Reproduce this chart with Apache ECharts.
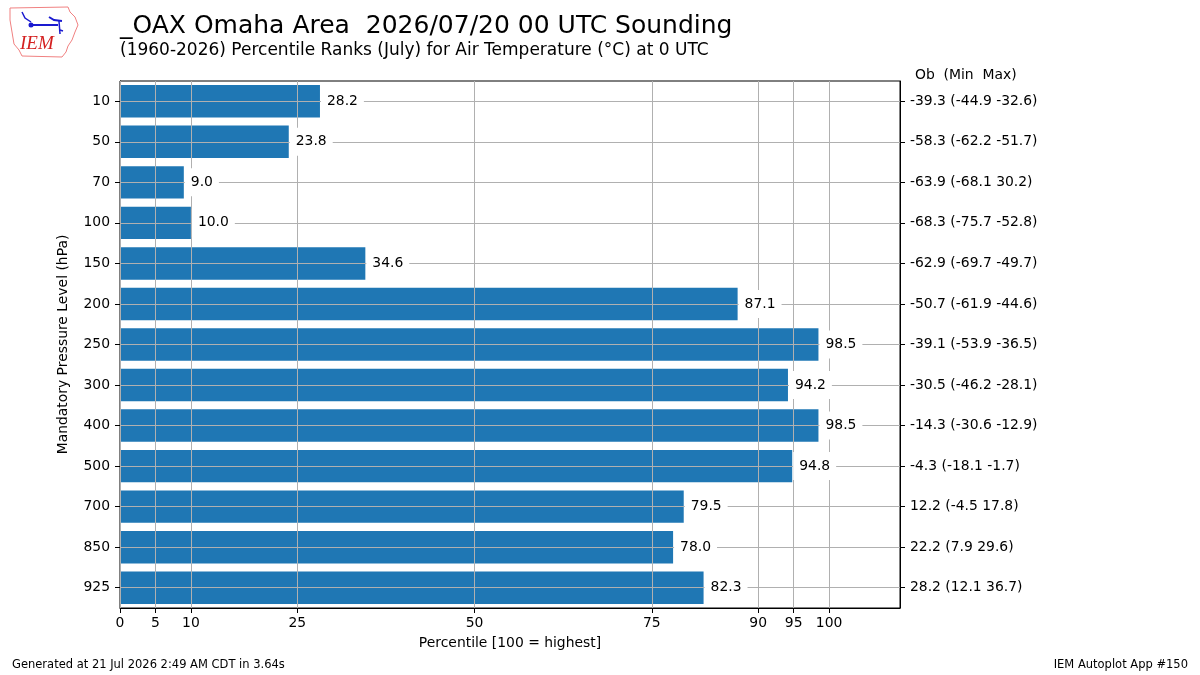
<!DOCTYPE html>
<html>
<head>
<meta charset="utf-8">
<script src="https://cdn.jsdelivr.net/npm/echarts@6/dist/echarts.min.js"></script>
<style>
    html, body {margin: 0; padding: 0; background: #fff;}
    #myChart {width: 1200px; height: 675px;}
</style>
</head>
<body>
<div id="myChart"></div>
<script>
//数据
var levels = ['10', '50', '70', '100', '150', '200', '250', '300', '400', '500', '700', '850', '925'];
var percentiles = [28.2, 23.8, 9.0, 10.0, 34.6, 87.1, 98.5, 94.2, 98.5, 94.8, 79.5, 78.0, 82.3];
var obs = [-39.3, -58.3, -63.9, -68.3, -62.9, -50.7, -39.1, -30.5, -14.3, -4.3, 12.2, 22.2, 28.2];
var mins = [-44.9, -62.2, -68.1, -75.7, -69.7, -61.9, -53.9, -46.2, -30.6, -18.1, -4.5, 7.9, 12.1];
var maxs = [-32.6, -51.7, 30.2, -52.8, -49.7, -44.6, -36.5, -28.1, -12.9, -1.7, 17.8, 29.6, 36.7];
var xTicks = [0, 5, 10, 25, 50, 75, 90, 95, 100];

var FONT = 'DejaVu Sans';
var FS = 13.9;

//右侧标签
function getRightLabels() {
    var labels = [];
    for (var i = 0; i < obs.length; i++) {
        labels.push(obs[i].toFixed(1) + ' (' + mins[i].toFixed(1) + ' ' + maxs[i].toFixed(1) + ')');
    }
    return labels;
}

//网格线
function getGridLines() {
    var lines = [];
    xTicks.forEach(function (v) {
        lines.push({xAxis: v});
    });
    levels.forEach(function (v, i) {
        lines.push({yAxis: i});
    });
    return lines;
}

//logo
function getLogo() {
    return [{
        type: 'polyline',
        shape: {points: [[10, 8], [68, 7], [70, 12], [75, 17], [78, 25], [75, 32], [72, 40], [68, 46], [66, 52], [62, 57], [22, 56], [19, 50], [14, 44], [12, 32], [10, 20], [10, 8]]},
        style: {stroke: '#f08080', lineWidth: 1, fill: null}
    }, {
        type: 'polyline',
        shape: {points: [[31, 25], [58, 25]]},
        style: {stroke: '#1a1ad0', lineWidth: 2}
    }, {
        type: 'circle',
        shape: {cx: 31, cy: 25, r: 2.5},
        style: {fill: '#1a1ad0'}
    }, {
        type: 'polyline',
        shape: {points: [[22, 12], [25, 18], [31, 22]]},
        style: {stroke: '#1a1ad0', lineWidth: 1.5, fill: null}
    }, {
        type: 'polyline',
        shape: {points: [[49, 17], [54, 20], [62, 21]]},
        style: {stroke: '#1a1ad0', lineWidth: 2, fill: null}
    }, {
        type: 'polyline',
        shape: {points: [[59, 21], [60, 34]]},
        style: {stroke: '#1a1ad0', lineWidth: 1.5}
    }, {
        type: 'polyline',
        shape: {points: [[60, 30], [63, 31]]},
        style: {stroke: '#1a1ad0', lineWidth: 1.5}
    }, {
        type: 'text',
        x: 20, y: 44,
        style: {text: 'IEM', fill: '#d42020', font: 'italic 19px "Liberation Serif"', textVerticalAlign: 'middle'}
    }];
}

//初始化myChart
function initECharts() {
    var texts = [{
        type: 'text',
        x: 120, y: 26,
        style: {text: '_OAX Omaha Area  2026/07/20 00 UTC Sounding', fill: '#000', font: '25px "' + FONT + '"', textVerticalAlign: 'middle'}
    }, {
        type: 'text',
        x: 120, y: 51,
        style: {text: '(1960-2026) Percentile Ranks (July) for Air Temperature (\u00b0C) at 0 UTC', fill: '#000', font: '17px "' + FONT + '"', textVerticalAlign: 'middle'}
    }, {
        type: 'text',
        x: 915, y: 75,
        style: {text: 'Ob  (Min  Max)', fill: '#000', font: FS + 'px "' + FONT + '"', textVerticalAlign: 'middle'}
    }, {
        type: 'text',
        x: 12, y: 665,
        style: {text: 'Generated at 21 Jul 2026 2:49 AM CDT in 3.64s', fill: '#000', font: '11.5px "' + FONT + '"', textVerticalAlign: 'middle'}
    }, {
        type: 'text',
        x: 1188, y: 665,
        style: {text: 'IEM Autoplot App #150', fill: '#000', font: '11.5px "' + FONT + '"', textVerticalAlign: 'middle', textAlign: 'right'}
    }];

    var option = {
        animation: false,
        textStyle: {fontFamily: FONT},
        graphic: getLogo().concat(texts),
        grid: {
            left: 120,
            right: 300,
            top: 81,
            bottom: 67,
            show: true,
            borderColor: '#000',
            borderWidth: 1
        },
        xAxis: {
            type: 'value',
            min: 0,
            max: 110,
            name: 'Percentile [100 = highest]',
            nameLocation: 'middle',
            nameGap: 28,
            nameTextStyle: {fontSize: FS, color: '#000'},
            axisLine: {show: true, lineStyle: {color: '#000', width: 1}},
            axisTick: {show: true, length: 5, customValues: xTicks, lineStyle: {color: '#000'}},
            axisLabel: {fontSize: FS, color: '#000', margin: 8, customValues: xTicks},
            splitLine: {show: false}
        },
        yAxis: [{
            type: 'category',
            data: levels,
            inverse: true,
            name: 'Mandatory Pressure Level (hPa)',
            nameLocation: 'middle',
            nameGap: 50,
            nameRotate: 90,
            nameTextStyle: {fontSize: FS, color: '#000'},
            axisLine: {show: true, lineStyle: {color: '#000', width: 1}},
            axisTick: {show: true, length: 5, alignWithLabel: true, lineStyle: {color: '#000'}},
            axisLabel: {fontSize: FS, color: '#000', margin: 10},
            splitLine: {show: false}
        }, {
            type: 'category',
            data: getRightLabels(),
            inverse: true,
            position: 'right',
            axisLine: {show: true, lineStyle: {color: '#000', width: 1}},
            axisTick: {show: true, length: 5, alignWithLabel: true, lineStyle: {color: '#000'}},
            axisLabel: {fontSize: FS, color: '#000', margin: 10},
            splitLine: {show: false}
        }],
        series: [{
            type: 'bar',
            data: percentiles,
            barWidth: '80%',
            barGap: '-100%',
            itemStyle: {color: '#1f77b4'},
            z: 1
        }, {
            //网格线画在柱子上面
            type: 'line',
            data: [],
            z: 2,
            markLine: {
                silent: true,
                z: 2,
                symbol: ['none', 'none'],
                label: {show: false},
                lineStyle: {color: '#b0b0b0', width: 1, type: 'solid'},
                data: getGridLines()
            }
        }, {
            //标签, 白底盖住网格线
            type: 'bar',
            data: percentiles,
            barWidth: '80%',
            barGap: '-100%',
            itemStyle: {color: 'rgba(0,0,0,0)'},
            z: 10,
            label: {
                show: true,
                position: 'right',
                distance: 1,
                color: '#000',
                fontSize: FS,
                backgroundColor: '#fff',
                padding: [7, 6],
                formatter: function (p) {
                    return p.value.toFixed(1);
                }
            }
        }]
    };
    var myChart = echarts.init(document.getElementById('myChart'));
    myChart.setOption(option);
}

initECharts();
</script>
</body>
</html>
